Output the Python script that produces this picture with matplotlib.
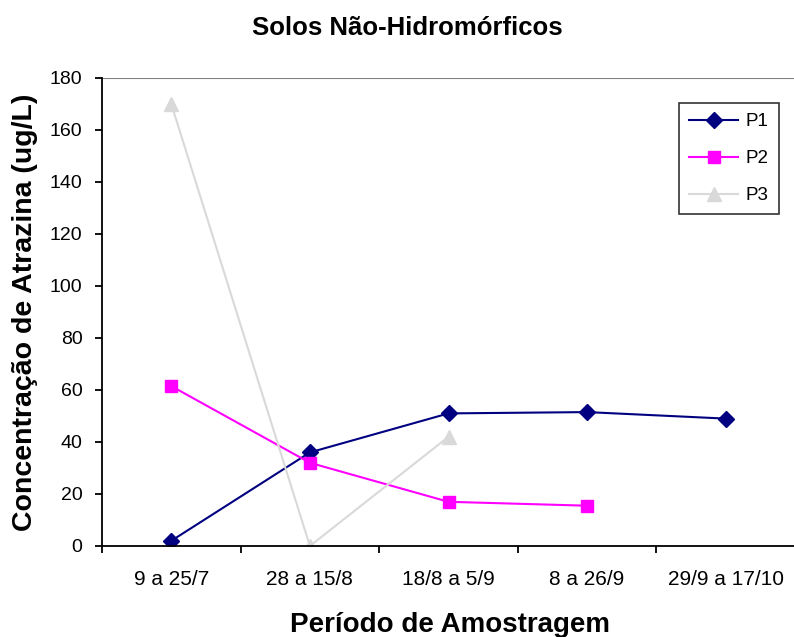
import matplotlib.pyplot as plt
import numpy as np

plt.rcParams['font.family'] = ['Liberation Sans', 'DejaVu Sans']

periodos = ['9 a 25/7', '28 a 15/8', '18/8 a 5/9', '8 a 26/9', '29/9 a 17/10']
p1 = [2, 36, 51, 51.5, 49]
p2 = [61.5, 32, 17, 15.5]
p3 = [170, 0, 42]

W, H = 794, 637
fig = plt.figure(figsize=(W / 100, H / 100), dpi=100)
ax = fig.add_axes([102 / W, 1 - 546 / H, 693 / W, 468 / H])

x = np.arange(len(periodos))
ax.plot(x, p1, color='#000080', marker='D', markersize=8, lw=1.5, label='P1')
ax.plot(x[:len(p2)], p2, color='#FF00FF', marker='s', markersize=8.5, lw=1.5, label='P2')
ax.plot(x[:len(p3)], p3, color='#D9D9D9', marker='^', markersize=10, lw=1.5, label='P3')

ax.set_xlim(-0.5, len(periodos) - 0.5)
ax.set_ylim(0, 180)
ax.set_yticks(range(0, 181, 20))
ax.set_xticks(x)
ax.set_xticklabels(periodos)
ax.set_xticks(np.arange(-0.5, len(periodos)), minor=True)
ax.tick_params(axis='x', which='major', length=0, pad=17, labelsize=15)
ax.tick_params(axis='x', which='minor', length=5, width=1.3, direction='out')
ax.tick_params(axis='y', length=5, width=1.3, direction='out', pad=9, labelsize=14)

# linha de grade superior (180)
ax.axhline(180, color='#808080', lw=1.5)
for s in ['top', 'right']:
    ax.spines[s].set_visible(False)
ax.spines['left'].set_linewidth(1.3)
ax.spines['bottom'].set_linewidth(1.3)

fig.text(407 / W, 1 - 35 / H, 'Solos Não-Hidromórficos', fontsize=18.5,
         fontweight='bold', ha='center', va='baseline')
fig.text(450 / W, 1 - 632 / H, 'Período de Amostragem', fontsize=20,
         fontweight='bold', ha='center', va='baseline')
fig.text(25 / W, 1 - 312 / H, 'Concentração de Atrazina (ug/L)', fontsize=20.5,
         fontweight='bold', ha='center', va='center', rotation=90)

leg = ax.legend(loc='upper right', bbox_to_anchor=((779 - 102) / 693, (546 - 103) / 468),
                fontsize=13.5, frameon=True, fancybox=False, edgecolor='black',
                handlelength=2.6, borderpad=0.55, borderaxespad=0,
                labelspacing=1.05, handletextpad=0.4)
leg.get_frame().set_linewidth(1.2)

fig.savefig('out.png', dpi=100)
